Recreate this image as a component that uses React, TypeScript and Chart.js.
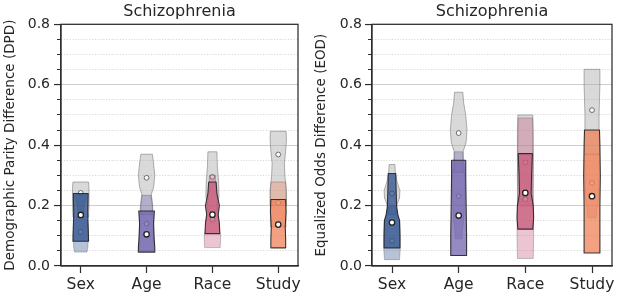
import React, { useEffect, useRef } from 'react';
import { Chart, registerables } from 'chart.js';

Chart.register(...registerables);
Chart.defaults.font.family = "'DejaVu Sans', sans-serif";

type Profile = [number, number][]; // [value, relative half-width of density]

const categories = ['Sex', 'Age', 'Race', 'Study'];
const panelTitle = 'Schizophrenia';
const dpdLabel = 'Demographic Parity Difference (DPD)';
const eodLabel = 'Equalized Odds Difference (EOD)';
const yMin = 0;
const yMax = 0.8;
const yMinorStep = 0.05;

// ---- DPD panel ----
const dpdGray: Profile[] = [
  [[0.278, 0.95], [0.26, 1.0], [0.2, 1.0], [0.162, 0.95]],
  [[0.37, 0.7], [0.34, 0.85], [0.3, 1.0], [0.26, 0.85], [0.235, 0.55], [0.2, 0.7], [0.17, 0.7]],
  [[0.378, 0.55], [0.33, 0.6], [0.28, 0.75], [0.23, 0.8], [0.2, 0.6], [0.18, 0.5]],
  [[0.446, 0.95], [0.42, 1.0], [0.38, 0.9], [0.34, 0.75], [0.3, 0.8], [0.25, 1.0], [0.2, 1.0]],
];
const dpdLight: Profile[] = [
  [[0.24, 0.75], [0.2, 0.45], [0.165, 0.3], [0.15, 0.85], [0.1, 0.95], [0.06, 0.85], [0.046, 0.75]],
  [[0.234, 0.6], [0.2, 0.75], [0.15, 0.85], [0.1, 0.9], [0.05, 0.9]],
  [[0.3, 0.35], [0.27, 0.4], [0.22, 0.55], [0.17, 0.7], [0.12, 0.85], [0.1, 1.0], [0.061, 0.95]],
  [[0.278, 0.9], [0.25, 0.95], [0.2, 0.95], [0.15, 0.95], [0.129, 0.95]],
];
const dpdDark: Profile[] = [
  [[0.24, 0.9], [0.18, 0.85], [0.13, 0.9], [0.082, 0.95]],
  [[0.182, 0.95], [0.14, 0.85], [0.1, 0.9], [0.06, 1.0], [0.046, 1.0]],
  [[0.278, 0.45], [0.24, 0.55], [0.2, 0.85], [0.17, 0.7], [0.14, 0.85], [0.107, 0.9]],
  [[0.22, 0.9], [0.18, 0.95], [0.13, 0.85], [0.09, 0.9], [0.06, 0.9]],
];
const dpdGrayMedian = [0.242, 0.292, 0.295, 0.369];
const dpdLightMedian = [0.113, 0.14, 0.154, 0.209];
const dpdDarkMedian = [0.169, 0.105, 0.17, 0.137];

// ---- EOD panel ----
const eodGray: Profile[] = [
  [[0.336, 0.35], [0.31, 0.4], [0.28, 0.6], [0.25, 0.95], [0.225, 0.9], [0.2, 0.55], [0.17, 0.5]],
  [[0.575, 0.5], [0.54, 0.6], [0.5, 0.85], [0.45, 1.0], [0.41, 0.9], [0.38, 0.55], [0.34, 0.5], [0.31, 0.6]],
  [[0.5, 0.9], [0.45, 0.95], [0.35, 0.95], [0.25, 0.9], [0.199, 0.9]],
  [[0.651, 0.95], [0.6, 0.95], [0.55, 0.9], [0.5, 0.85], [0.45, 0.85], [0.4, 0.9], [0.37, 0.9]],
];
const eodLight: Profile[] = [
  [[0.2, 0.4], [0.17, 0.7], [0.15, 0.95], [0.1, 1.0], [0.06, 1.0], [0.021, 0.9]],
  [[0.378, 0.5], [0.35, 0.6], [0.31, 0.75], [0.25, 0.75], [0.2, 0.7], [0.15, 0.6], [0.12, 0.45], [0.09, 0.4]],
  [[0.49, 0.85], [0.4, 0.9], [0.3, 0.95], [0.2, 0.95], [0.1, 1.0], [0.025, 0.95]],
  [[0.37, 0.9], [0.3, 0.85], [0.22, 0.75], [0.18, 0.55], [0.16, 0.5]],
];
const eodDark: Profile[] = [
  [[0.306, 0.45], [0.25, 0.5], [0.2, 0.55], [0.17, 0.7], [0.15, 0.9], [0.1, 0.95], [0.06, 0.95]],
  [[0.35, 0.85], [0.3, 0.85], [0.2, 0.9], [0.1, 0.95], [0.035, 0.95]],
  [[0.372, 0.85], [0.3, 0.75], [0.24, 0.7], [0.2, 0.95], [0.16, 1.0], [0.122, 0.9]],
  [[0.45, 0.9], [0.4, 0.95], [0.3, 1.0], [0.2, 0.95], [0.1, 0.95], [0.043, 0.95]],
];
const eodGrayMedian = [0.24, 0.44, 0.343, 0.516];
const eodLightMedian = [0.083, 0.231, 0.221, 0.275];
const eodDarkMedian = [0.144, 0.167, 0.242, 0.231];

// ---- styles ----
const hueRGB = ['45,80,140', '112,97,172', '198,88,122', '238,128,88'];
const HALF_WIDTH = 0.125;
const TEXT = '#262626';
const SPINE = '#2e2e2e';

const isMajor = (v: number) => Math.abs(v * 5 - Math.round(v * 5)) < 1e-6;

type PanelSpec = {
  gray: Profile[]; light: Profile[]; dark: Profile[];
  grayMed: number[]; lightMed: number[]; darkMed: number[];
  yTitle: string; axisWidth: number; padRight: number; titlePad: number; tickPad: number;
};

function makeViolinPlugin(spec: PanelSpec) {
  return {
    id: 'violins',
    beforeDatasetDraw(chart: any, args: any) {
      const ds = chart.data.datasets[args.index];
      const kind = ds.label as 'gray' | 'light' | 'dark';
      const group = spec[kind];
      const xs = chart.scales.x;
      const ys = chart.scales.y;
      const ctx = chart.ctx as CanvasRenderingContext2D;
      const a = chart.chartArea;
      ctx.save();
      ctx.beginPath();
      ctx.rect(a.left, a.top, a.right - a.left, a.bottom - a.top);
      ctx.clip();
      group.forEach((prof, i) => {
        ctx.beginPath();
        prof.forEach(([v, d], k) => {
          const px = xs.getPixelForValue(i + d * HALF_WIDTH);
          const py = ys.getPixelForValue(v);
          if (k === 0) ctx.moveTo(px, py); else ctx.lineTo(px, py);
        });
        for (let k = prof.length - 1; k >= 0; k--) {
          const [v, d] = prof[k];
          ctx.lineTo(xs.getPixelForValue(i - d * HALF_WIDTH), ys.getPixelForValue(v));
        }
        ctx.closePath();
        if (kind === 'gray') {
          ctx.fillStyle = 'rgba(170,170,170,0.45)';
          ctx.strokeStyle = 'rgba(90,90,90,0.45)';
          ctx.lineWidth = 1;
        } else if (kind === 'light') {
          ctx.fillStyle = `rgba(${hueRGB[i]},0.35)`;
          ctx.strokeStyle = 'rgba(90,90,90,0.35)';
          ctx.lineWidth = 1;
        } else {
          ctx.fillStyle = `rgba(${hueRGB[i]},0.74)`;
          ctx.strokeStyle = 'rgba(35,35,35,0.9)';
          ctx.lineWidth = 1.1;
        }
        ctx.lineJoin = 'round';
        ctx.fill();
        ctx.stroke();
      });
      ctx.restore();
    },
  };
}

const framePlugin = {
  id: 'frame',
  afterDatasetsDraw(chart: any) {
    const ctx = chart.ctx as CanvasRenderingContext2D;
    const a = chart.chartArea;
    ctx.save();
    ctx.strokeStyle = SPINE;
    ctx.lineWidth = 1.25;
    ctx.strokeRect(a.left, a.top, a.right - a.left, a.bottom - a.top);
    ctx.restore();
  },
};

function Panel({ spec, left, width }: { spec: PanelSpec; left: number; width: number }) {
  const ref = useRef<HTMLCanvasElement | null>(null);
  useEffect(() => {
    if (!ref.current) return;
    const pts = (arr: number[]) => arr.map((y, i) => ({ x: i, y }));
    const chart = new Chart(ref.current, {
      type: 'scatter',
      data: {
        datasets: [
          {
            label: 'dark', data: pts(spec.darkMed), order: 0, xAxisID: 'x', yAxisID: 'y',
            pointRadius: 2.7, pointBackgroundColor: '#ffffff', pointBorderColor: '#222222', pointBorderWidth: 1.3,
          },
          {
            label: 'light', data: pts(spec.lightMed), order: 1, xAxisID: 'x', yAxisID: 'y',
            pointRadius: 2.4, pointBackgroundColor: 'rgba(255,255,255,0.9)', pointBorderColor: 'rgba(80,80,80,0.9)', pointBorderWidth: 0.9,
          },
          {
            label: 'gray', data: pts(spec.grayMed), order: 2, xAxisID: 'x', yAxisID: 'y',
            pointRadius: 2.4, pointBackgroundColor: 'rgba(255,255,255,0.9)', pointBorderColor: 'rgba(80,80,80,0.9)', pointBorderWidth: 0.9,
          },
        ] as any,
      },
      options: {
        responsive: false,
        animation: false,
        devicePixelRatio: 1,
        events: [],
        layout: { padding: { left: 0, right: spec.padRight, top: 0, bottom: 0 } },
        plugins: { legend: { display: false }, tooltip: { enabled: false } },
        scales: {
          x: {
            type: 'linear', min: -0.3, max: 3.3,
            afterBuildTicks: (s: any) => { s.ticks = categories.map((_, i) => ({ value: i })); },
            ticks: {
              callback: (v: any) => categories[Number(v)] ?? '',
              font: { size: 15.5 }, color: TEXT, padding: 3, autoSkip: false, maxRotation: 0,
            },
            grid: { drawOnChartArea: false, tickLength: 7, tickColor: SPINE, tickWidth: 1.2 },
            border: { color: SPINE, width: 1.25 },
            afterFit: (s: any) => { s.height = 34; },
          },
          y: {
            type: 'linear', min: yMin, max: yMax,
            ticks: {
              stepSize: yMinorStep, autoSkip: false,
              callback: (v: any) => (isMajor(Number(v)) ? Number(v).toFixed(1) : ''),
              font: { size: 14 }, color: TEXT, padding: spec.tickPad,
            },
            grid: {
              color: (c: any) => (c.tick && isMajor(c.tick.value) ? '#cdcdcd' : '#cfcfcf'),
              lineWidth: (c: any) => (c.tick && isMajor(c.tick.value) ? 1.1 : 0.8),
              tickLength: 7,
              tickColor: SPINE,
              tickWidth: (c: any) => (c.tick && isMajor(c.tick.value) ? 1.2 : 1),
              tickBorderDash: (c: any) => (c.tick && !isMajor(c.tick.value) ? [4, 3] : []),
              tickBorderDashOffset: (c: any) => (c.tick && !isMajor(c.tick.value) ? 4 : 0),
            },
            border: {
              color: SPINE, width: 1.25,
              dash: (c: any) => (c.tick && !isMajor(c.tick.value) ? [1.2, 1.6] : []),
            },
            title: {
              display: true, text: spec.yTitle, color: TEXT, font: { size: 13.5 },
              padding: { top: spec.titlePad, bottom: 0 },
            },
            afterFit: (s: any) => { s.width = spec.axisWidth; },
          },
          t: {
            type: 'linear', position: 'top', axis: 'x', min: 0, max: 1,
            ticks: { display: false },
            grid: { display: false, drawTicks: false },
            border: { display: false },
            title: { display: true, text: panelTitle, color: TEXT, font: { size: 16 }, padding: { top: 2.4, bottom: 0 } },
            afterFit: (s: any) => { s.height = 24.3; },
          },
        } as any,
      },
      plugins: [makeViolinPlugin(spec), framePlugin],
    });
    return () => chart.destroy();
  }, [spec]);
  return (
    <canvas
      ref={ref}
      width={width}
      height={300}
      style={{ position: 'absolute', left, top: 0, width, height: 300 }}
    />
  );
}

const dpdSpec: PanelSpec = {
  gray: dpdGray, light: dpdLight, dark: dpdDark,
  grayMed: dpdGrayMedian, lightMed: dpdLightMedian, darkMed: dpdDarkMedian,
  yTitle: dpdLabel, axisWidth: 61, padRight: 12, titlePad: 2, tickPad: 4,
};
const eodSpec: PanelSpec = {
  gray: eodGray, light: eodLight, dark: eodDark,
  grayMed: eodGrayMedian, lightMed: eodLightMedian, darkMed: eodDarkMedian,
  yTitle: eodLabel, axisWidth: 62, padRight: 11, titlePad: 3, tickPad: 3,
};

export default function App() {
  return (
    <div style={{ position: 'absolute', left: 0, top: 0, width: 623, height: 300, background: '#ffffff' }}>
      <Panel spec={dpdSpec} left={0} width={310} />
      <Panel spec={eodSpec} left={310} width={313} />
    </div>
  );
}
